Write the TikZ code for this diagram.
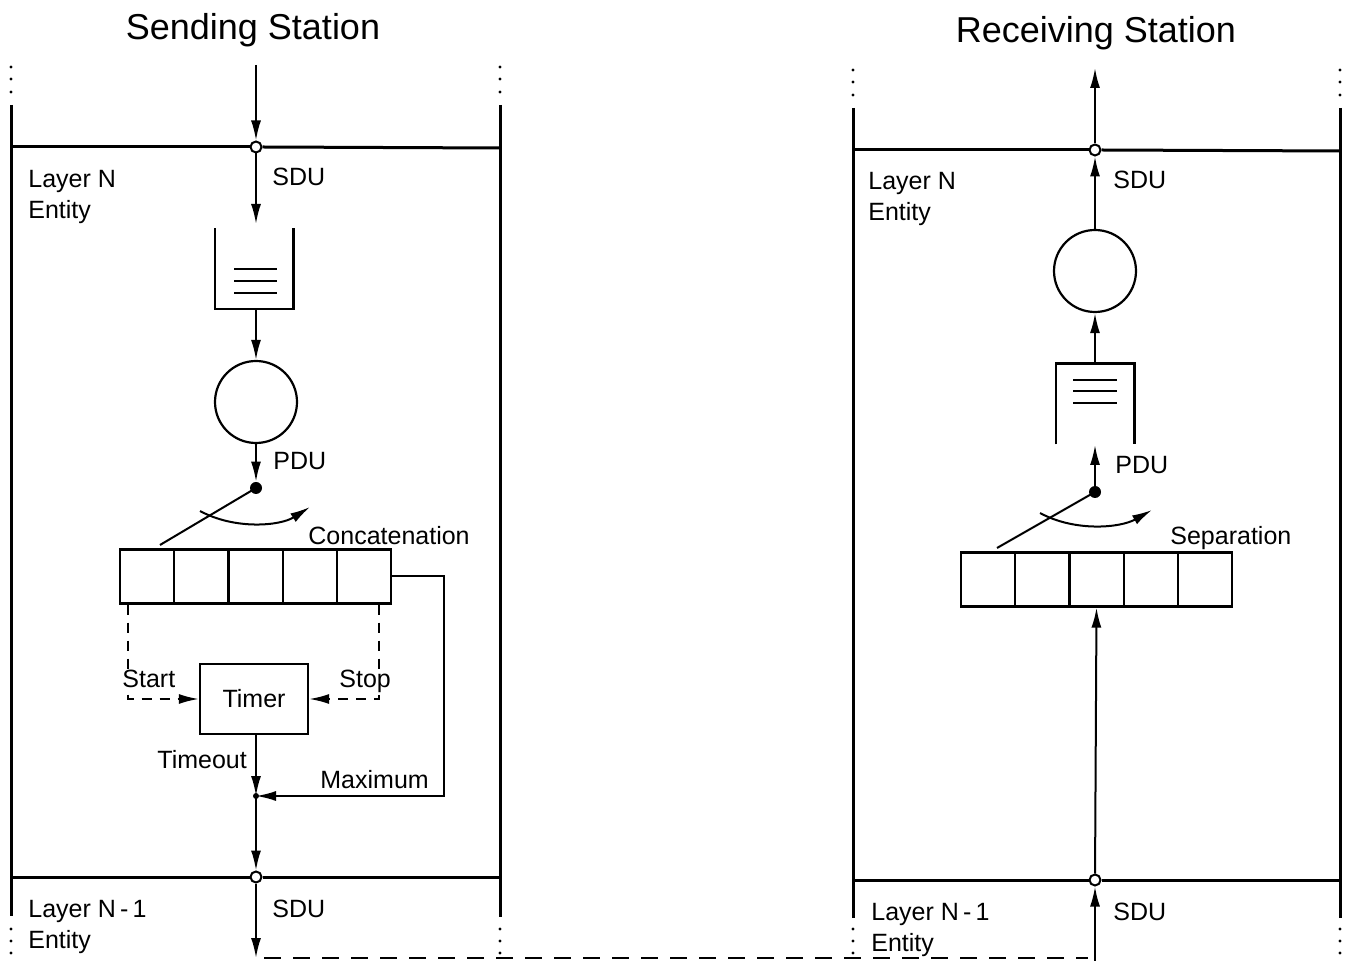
\documentclass[tikz,border=0pt]{standalone}
\usepackage{fontspec}
\setmainfont{Liberation Sans}
\usetikzlibrary{arrows.meta}
\tikzset{
  wall/.style={line width=1.5pt},
  flow/.style={line width=1pt,-{Latex[length=10pt,width=5pt]}},
  ctrl/.style={line width=1pt,dash pattern=on 5pt off 4pt},
  link/.style={line width=1.1pt,dash pattern=on 8.5pt off 6pt},
  arm/.style={line width=1pt},
  port/.style={circle,draw,fill=white,line width=1pt,inner sep=0pt,minimum size=5.5pt},
  swdot/.style={circle,fill,inner sep=0pt,minimum size=6pt},
  server/.style={circle,draw,line width=1.1pt,inner sep=0pt,minimum size=41pt},
  qbox/.style={inner sep=0pt,minimum width=39pt,minimum height=40pt},
  cell/.style={draw,line width=1.1pt,inner sep=0pt,minimum width=27.1pt,minimum height=27pt},
  timerbox/.style={draw,line width=1.1pt,inner sep=0pt,minimum width=54pt,minimum height=35pt,font=\fontsize{12.5}{15}\selectfont},
  lbl/.style={inner sep=0pt,anchor=base west,font=\fontsize{12.5}{15}\selectfont},
  ttl/.style={inner sep=0pt,anchor=base,font=\fontsize{18}{22}\selectfont}
}
\begin{document}
\begin{tikzpicture}[x=0.5pt,y=-0.5pt]
  \useasboundingbox (0,0) rectangle (1349,961);

  % sending station
  \node[ttl] (ttlS) at (253,40) {Sending Station};
  \draw[wall] (11,105) -- (11,916);
  \draw[wall] (500,105) -- (500,917);
  \foreach \y in {67,79,92} {
    \fill (11,\y) circle (0.8pt);
    \fill (500,\y) circle (0.8pt);
  }
  \foreach \y in {929,941,953} {
    \fill (11,\y) circle (0.8pt);
    \fill (500,\y) circle (0.8pt);
  }
  \node[port] (sin) at (256,147) {};
  \node[port] (sout) at (256,877) {};
  \draw[wall] (11,147) -- (sin.west);
  \draw[wall] (sin.east) -- (500,148);
  \draw[wall] (11,877) -- (sout.west);
  \draw[wall] (sout.east) -- (500,877);

  \node[lbl] (layS) at (28,188) {Layer N};
  \node[lbl] (entS) at (28,219) {Entity};
  \node[lbl] (sduS) at (272,186) {SDU};
  \node[lbl] (laySb) at (28,917) {Layer N\,-\,1};
  \node[lbl] (entSb) at (28,948) {Entity};
  \node[lbl] (sduSb) at (272,917) {SDU};

  \node[qbox] (lq) at (254,268.5) {};
  \draw[line width=1.1pt] (lq.north west) -- (lq.south west) -- (lq.south east) -- (lq.north east);
  \foreach \y in {269,281,293}
    \draw[line width=1pt] (234,\y) -- (277,\y);
  \node[server] (ls) at (256,402) {};
  \node[swdot] (lsw) at (256,488) {};
  \node[lbl] (pduS) at (273,470) {PDU};

  \coordinate (lin) at (256,65);
  \coordinate (lend) at (256,958);
  \draw[flow] (lin) -- (sin);
  \draw[flow] (sin) -- (256,224);
  \draw[flow] (256,309) -- (ls);
  \draw[flow] (ls) -- (lsw);

  \foreach \i in {0,...,4}
    \node[cell] (lc\i) at ({147.1+54.2*\i},576.5) {};
  \coordinate (larm) at (160,545);
  \draw[arm] (lsw.center) -- (larm);
  \draw[flow] (200,511) .. controls (235,530) and (280,526) .. (310,507);
  \node[lbl] (conc) at (308,545) {Concatenation};

  \node[timerbox] (tm) at (254,699) {Timer};
  \draw[ctrl,-{Latex[length=10pt,width=5pt]}] (lc0.south west) ++(9,0) |- (tm.west);
  \draw[ctrl,-{Latex[length=10pt,width=5pt]}] (lc4.south east) ++(-13,0) |- (tm.east);
  \node[lbl,fill=white,inner sep=1pt] (start) at (120,688) {Start};
  \node[lbl,fill=white,inner sep=1pt] (stop) at (337,688) {Stop};

  \coordinate (join) at (256,796);
  \draw[flow] (tm.south -| join) -- (join);
  \draw[flow] (lc4.east) -- (444,576.5) |- (join);
  \fill (join) circle (1.5pt);
  \node[lbl] (tout) at (157,769) {Timeout};
  \node[lbl] (maxi) at (320,789) {Maximum};
  \draw[flow] (join) -- (sout);
  \draw[flow] (sout) -- (lend);

  % link between the stations
  \coordinate (rbeg) at (1095,961);
  \draw[link] (264,958) -- (1088,958);

  % receiving station
  \node[ttl] (ttlR) at (1096,43) {Receiving Station};
  \draw[wall] (853,108) -- (853,918);
  \draw[wall] (1340,108) -- (1340,918);
  \foreach \y in {70,82,95} {
    \fill (853,\y) circle (0.8pt);
    \fill (1340,\y) circle (0.8pt);
  }
  \foreach \y in {929,941,953} {
    \fill (853,\y) circle (0.8pt);
    \fill (1340,\y) circle (0.8pt);
  }
  \node[port] (rout) at (1095,150) {};
  \node[port] (rin) at (1095,880) {};
  \draw[wall] (853,150) -- (rout.west);
  \draw[wall] (rout.east) -- (1340,151);
  \draw[wall] (853,880) -- (rin.west);
  \draw[wall] (rin.east) -- (1340,880);

  \node[lbl] (layR) at (868,190) {Layer N};
  \node[lbl] (entR) at (868,221) {Entity};
  \node[lbl] (sduR) at (1113,189) {SDU};
  \node[lbl] (layRb) at (871,920) {Layer N\,-\,1};
  \node[lbl] (entRb) at (871,951) {Entity};
  \node[lbl] (sduRb) at (1113,920) {SDU};

  \node[server] (rs) at (1095,271) {};
  \node[qbox] (rq) at (1095,404) {};
  \draw[line width=1.1pt] (rq.south west) -- (rq.north west) -- (rq.north east) -- (rq.south east);
  \foreach \y in {380,391,403}
    \draw[line width=1pt] (1073,\y) -- (1117,\y);
  \node[swdot] (rsw) at (1095,492) {};
  \node[lbl] (pduR) at (1115,474) {PDU};

  \coordinate (rtop) at (1095,68);
  \draw[flow] (rout) -- (rtop);
  \draw[flow] (rs) -- (rout);
  \draw[flow] (rq.north) -- (rs);
  \draw[flow] (rsw) -- (1095,445);

  \foreach \i in {0,...,4}
    \node[cell] (rc\i) at ({988.1+54.2*\i},579.5) {};
  \coordinate (rarm) at (997,548);
  \draw[arm] (rsw.center) -- (rarm);
  \draw[flow] (1040,513) .. controls (1075,532) and (1120,528) .. (1152,510);
  \node[lbl] (sepa) at (1170,545) {Separation};

  \draw[flow] (rin) -- (rc2.south);
  \draw[flow] (rbeg) -- (rin);
\end{tikzpicture}
\end{document}
